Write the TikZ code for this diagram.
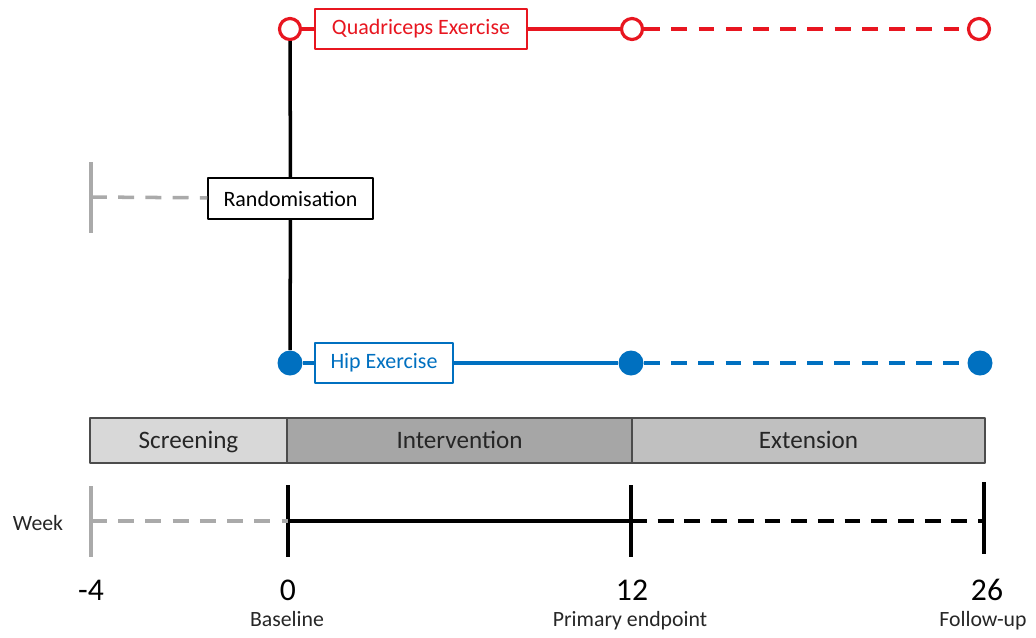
\documentclass[tikz,border=0pt]{standalone}
\usepackage{fontspec}
\setmainfont{Carlito}
\usetikzlibrary{positioning}
\definecolor{quadred}{RGB}{232,22,32}
\definecolor{hipblue}{RGB}{0,112,192}
\definecolor{scrgray}{RGB}{216,216,216}
\definecolor{intgray}{RGB}{166,166,166}
\definecolor{extgray}{RGB}{192,192,192}
\definecolor{pregray}{RGB}{170,170,170}
\begin{document}
\begin{tikzpicture}[x=0.02cm,y=-0.02cm, line join=round,
	font=\fontsize{12.5}{14}\selectfont,
	opendot/.style={circle,draw=quadred,fill=white,line width=1.8pt,inner sep=0pt,minimum size=0.42cm},
	fulldot/.style={circle,fill=hipblue,inner sep=0pt,minimum size=0.5cm},
	armbox/.style={draw,fill=white,line width=0.8pt,minimum height=0.8cm,inner sep=2pt},
	phase/.style={draw=black!70,line width=0.8pt,minimum height=0.9cm,text height=1.95ex,text depth=0.15ex,text=black!85,font=\fontsize{14.3}{16}\selectfont},
	wk/.style={font=\fontsize{18}{20}\selectfont,anchor=base},
	wkname/.style={font=\fontsize{12.4}{14}\selectfont,text=black!85},
	dsh/.style={dash pattern=on 9pt off 6.5pt}]
	\useasboundingbox (0,0) rectangle (1036,637);
	% Arme
	\node[opendot] (q0) at (290,29) {};
	\node[opendot] (q12) at (632,29) {};
	\node[opendot] (q26) at (979,29) {};
	\node[armbox,draw=quadred,text=quadred,minimum width=4.24cm] (quad) at (421,29) {Quadriceps Exercise};
	\node[fulldot] (h0) at (290,363) {};
	\node[fulldot] (h12) at (631,363) {};
	\node[fulldot] (h26) at (980,363) {};
	\node[armbox,draw=hipblue,text=hipblue,minimum width=2.76cm] (hip) at (384,363) {Hip Exercise};
	\node[armbox,draw=black,minimum width=3.3cm,minimum height=0.82cm] (rand) at (290.5,198.5) {Randomisation};
	\coordinate (pre) at (91,197);
	\draw[quadred,line width=1.9pt] (q0)--(quad) (quad)--(q12);
	\draw[quadred,line width=1.9pt,dsh] (q12)--(q26);
	\draw[hipblue,line width=1.9pt] (h0)--(hip) (hip)--(h12);
	\draw[hipblue,line width=1.9pt,dsh] (h12)--(h26);
	\draw[line width=2pt] (q0)--(rand) (rand)--(h0);
	\draw[pregray,line width=2pt] (91,162)--(91,233);
	\draw[pregray,line width=2pt,dsh] (pre)--(rand);
	% Phasen
	\node[phase,fill=scrgray,minimum width=3.94cm] (scr) at (188.5,440.5) {Screening};
	\node[phase,fill=intgray,minimum width=6.9cm] (int) at (459.5,440.5) {Intervention};
	\node[phase,fill=extgray,minimum width=7.06cm] (ext) at (808.5,440.5) {Extension};
	% Wochen
	\coordinate (wm4) at (91,521);
	\coordinate (w0) at (288,521);
	\coordinate (w12) at (631,521);
	\coordinate (w26) at (984,521);
	\draw[pregray,line width=2pt] (91,486)--(91,557);
	\draw[line width=2pt] (288,485)--(288,557) (631,485)--(631,557) (984,482)--(984,554);
	\draw[pregray,line width=2pt,dsh] (wm4)--(w0);
	\draw[line width=2pt] (w0)--(w12);
	\draw[line width=2pt,dash pattern=on 9pt off 6.2pt] (w12)--(w26);
	\node[wkname] (week) at (38,523) {Week};
	\node[wk] (lm4) at (91,600) {-4};
	\node[wk] (l0) at (288,600) {0};
	\node[wk] (l12) at (632,600) {12};
	\node[wk] (l26) at (987,600) {26};
	\node[wkname,anchor=base] (base) at (287,626) {Baseline};
	\node[wkname,anchor=base] (prim) at (630,626) {Primary endpoint};
	\node[wkname,anchor=base] (fol) at (983,626) {Follow-up};
\end{tikzpicture}
\end{document}
